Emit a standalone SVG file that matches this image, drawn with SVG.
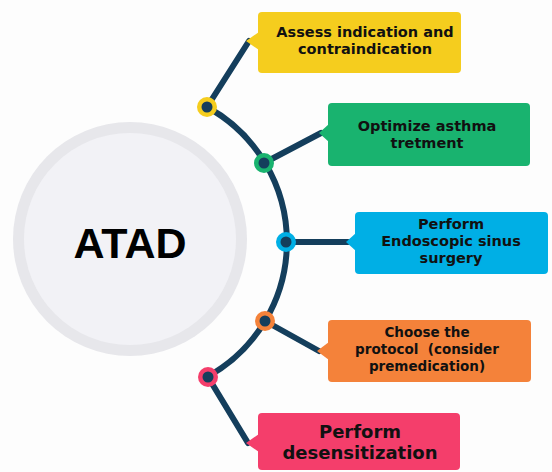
<svg xmlns="http://www.w3.org/2000/svg" width="552" height="472" viewBox="0 0 552 472">
  <style>
    .link { fill: none; stroke: #143e5c; stroke-width: 6; stroke-linecap: round; }
    .dot-core { fill: #143e5c; }
    .label { font-family: "DejaVu Sans", "Liberation Sans", sans-serif; font-weight: 700; fill: #111111; text-anchor: middle; }
    .hub { font-family: "Liberation Sans", Arial, sans-serif; font-weight: 700; fill: #000000; text-anchor: middle; }
  </style>
  <rect width="552" height="472" fill="#fdfdfd"/>

  <!-- central hub -->
  <g id="hub">
    <circle cx="130" cy="239" r="117" fill="#e7e7eb"/>
    <circle cx="130" cy="239" r="106" fill="#f2f2f6"/>
    <text class="hub" x="130" y="258" font-size="43">ATAD</text>
  </g>

  <!-- connectors: arc around the hub plus a spoke to each step -->
  <g id="connectors">
    <path class="link" d="M 207 107 A 154 154 0 0 1 207 377"/>
    <line class="link" x1="207" y1="107" x2="249" y2="41"/>
    <line class="link" x1="264" y1="163" x2="321" y2="133"/>
    <line class="link" x1="286" y1="242" x2="348" y2="242"/>
    <line class="link" x1="265" y1="321" x2="319" y2="351"/>
    <line class="link" x1="208" y1="377" x2="248" y2="443"/>
  </g>

  <g id="step1">
    <circle cx="207" cy="107" r="10" fill="#f5cd1e"/>
    <circle class="dot-core" cx="207" cy="107" r="5.5"/>
    <rect x="258" y="12" width="203" height="61" rx="4" fill="#f5cd1e"/>
    <polygon points="246,41 259,32 259,50" fill="#f5cd1e"/>
    <text class="label" font-size="14.5" x="365" y="36.5">Assess indication and</text>
    <text class="label" font-size="14.5" x="365" y="53.5">contraindication</text>
  </g>

  <g id="step2">
    <circle cx="264" cy="163" r="10" fill="#19b36f"/>
    <circle class="dot-core" cx="264" cy="163" r="5.5"/>
    <rect x="328" y="103" width="202" height="63" rx="4" fill="#19b36f"/>
    <polygon points="319,133 329,124 329,142" fill="#19b36f"/>
    <text class="label" font-size="14.5" x="427" y="131">Optimize asthma</text>
    <text class="label" font-size="14.5" x="427" y="148">tretment</text>
  </g>

  <g id="step3">
    <circle cx="286" cy="242" r="10" fill="#00afe5"/>
    <circle class="dot-core" cx="286" cy="242" r="5.5"/>
    <rect x="355" y="212" width="193" height="62" rx="4" fill="#00afe5"/>
    <polygon points="346,242 356,233 356,251" fill="#00afe5"/>
    <text class="label" font-size="14.5" x="451" y="228.5">Perform</text>
    <text class="label" font-size="14.5" x="451" y="246">Endoscopic sinus</text>
    <text class="label" font-size="14.5" x="451" y="263">surgery</text>
  </g>

  <g id="step4">
    <circle cx="265" cy="321" r="10" fill="#f4823a"/>
    <circle class="dot-core" cx="265" cy="321" r="5.5"/>
    <rect x="328" y="320" width="203" height="62" rx="4" fill="#f4823a"/>
    <polygon points="317,351 329,342 329,360" fill="#f4823a"/>
    <text class="label" font-size="13.5" x="427" y="337">Choose the</text>
    <text class="label" font-size="13.5" x="427" y="354" xml:space="preserve">protocol  (consider</text>
    <text class="label" font-size="13.5" x="427" y="371">premedication)</text>
  </g>

  <g id="step5">
    <circle cx="208" cy="377" r="10" fill="#f43e6b"/>
    <circle class="dot-core" cx="208" cy="377" r="5.5"/>
    <rect x="258" y="413" width="202" height="57" rx="4" fill="#f43e6b"/>
    <polygon points="246,443 259,434 259,452" fill="#f43e6b"/>
    <text class="label" font-size="18" x="360" y="438">Perform</text>
    <text class="label" font-size="18" x="360" y="459">desensitization</text>
  </g>
</svg>
